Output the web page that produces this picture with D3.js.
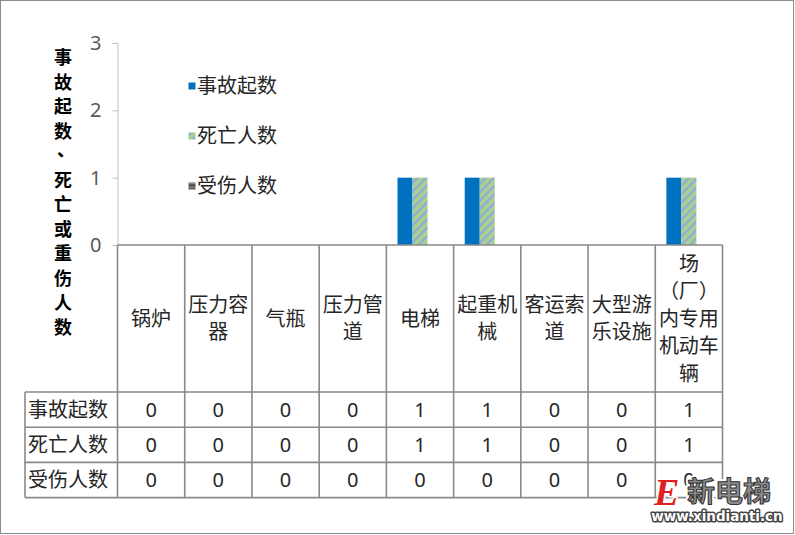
<!DOCTYPE html>
<html><head><meta charset="utf-8">
<script src="https://cdn.jsdelivr.net/npm/d3@7"></script>
<style>
html,body{margin:0;padding:0;background:#fff;}
text{font-family:"Noto Sans CJK SC","Noto Sans",sans-serif;}
</style></head>
<body>
<svg id="chart" width="795" height="535"></svg>
<script>
const categories = ["锅炉","压力容器","气瓶","压力管道","电梯","起重机械","客运索道","大型游乐设施","场（厂）内专用机动车辆"];
const categoryLines = [["锅炉"],["压力容","器"],["气瓶"],["压力管","道"],["电梯"],["起重机","械"],["客运索","道"],["大型游","乐设施"],["场","（厂）","内专用","机动车","辆"]];
const seriesNames = ["事故起数","死亡人数","受伤人数"];
const accidents = [0,0,0,0,1,1,0,0,1];
const deaths    = [0,0,0,0,1,1,0,0,1];
const injuries  = [0,0,0,0,0,0,0,0,0];
const yTicks = [0,1,2,3];
const yTitle = "事故起数、死亡或重伤人数";

const seriesValues = [accidents, deaths, injuries];
const svg = d3.select("#chart");
const defs = svg.append("defs");

// patterns
const p1 = defs.append("pattern").attr("id","hatchGreen").attr("patternUnits","userSpaceOnUse")
  .attr("width",6).attr("height",6).attr("patternTransform","rotate(45)");
p1.append("rect").attr("width",6).attr("height",6).attr("fill","#a9d18e");
p1.append("rect").attr("width",2.2).attr("height",6).attr("fill","#8faadc");
const p2 = defs.append("pattern").attr("id","hatchGray").attr("patternUnits","userSpaceOnUse")
  .attr("width",4).attr("height",4);
p2.append("rect").attr("width",4).attr("height",4).attr("fill","#595959");
p2.append("rect").attr("y",3).attr("width",4).attr("height",1).attr("fill","#8c8c8c");
const fills = ["#0070c0","url(#hatchGreen)","url(#hatchGray)"];

// outer frame
svg.append("rect").attr("x",0.5).attr("y",0.5).attr("width",793).attr("height",533)
  .attr("fill","#fff").attr("stroke","#8c8c8c").attr("stroke-width",1);

const x0 = d3.scaleBand().domain(categories).range([117.5, 722.5]).padding(0);
const x1 = d3.scaleBand().domain(seriesNames).range([0, x0.bandwidth()]).paddingInner(0).paddingOuter(0.74);
const y = d3.scaleLinear().domain([0,3]).range([245, 43]);

// y axis
const yAxis = svg.append("g").attr("transform","translate(117.5,0)")
  .call(d3.axisLeft(y).tickValues(yTicks).tickFormat(d3.format("d")).tickSize(5).tickPadding(11).tickSizeOuter(0));
yAxis.select(".domain").attr("stroke","#bfbfbf").attr("stroke-width",1);
yAxis.selectAll(".tick line").attr("stroke","#bfbfbf");
yAxis.selectAll(".tick text").attr("fill","#595959").style("font-size","20px")
  .style("font-family","'Noto Sans','DejaVu Sans',sans-serif");

// y title stacked
const titleChars = Array.from(yTitle);
svg.append("g").selectAll("text").data(titleChars).join("text")
  .attr("x",(d)=> d==="、" ? 66 : 63)
  .attr("y",(d,i)=> 58 + i*24.5 + (d==="、" ? -6 : 0))
  .attr("dy","0.36em").attr("text-anchor","middle")
  .style("font-size","18px").style("font-weight","bold").attr("fill","#000")
  .text(d=>d);

// bars
const barsG = svg.append("g");
seriesNames.forEach((s,si)=>{
  barsG.append("g").selectAll("rect").data(categories.map((c,i)=>({c, v: seriesValues[si][i]})))
    .join("rect")
    .attr("x", d=> x0(d.c) + x1(s))
    .attr("y", d=> y(d.v))
    .attr("width", x1.bandwidth())
    .attr("height", d=> y(0) - y(d.v))
    .attr("fill", fills[si]);
});

// legend
const legend = svg.append("g");
seriesNames.forEach((s,i)=>{
  const ly = 86 + i*50;
  legend.append("rect").attr("x",188.5).attr("y",ly-3.5).attr("width",7).attr("height",7).attr("fill",fills[i]);
  legend.append("text").attr("x",197).attr("y",ly).attr("dy","0.36em")
    .style("font-size","20px").attr("fill","#262626").text(s);
});

// data table
const lineColor = "#898989";
const tbl = svg.append("g");
const headerTop = y(0), headerBottom = 392;
const rowH = 35.2;
const tableBottom = headerBottom + rowH*3;
const leftCol = 25;
for(let r=0;r<=3;r++){
  const yy = headerBottom + r*rowH;
  tbl.append("line").attr("x1",leftCol).attr("x2",x0.range()[1]).attr("y1",yy).attr("y2",yy)
    .attr("stroke",lineColor).attr("stroke-width",1.6);
}
tbl.append("line").attr("x1",x0.range()[0]).attr("x2",x0.range()[1]).attr("y1",headerTop).attr("y2",headerTop)
  .attr("stroke",lineColor).attr("stroke-width",1.6);
tbl.append("line").attr("x1",leftCol).attr("x2",leftCol).attr("y1",headerBottom).attr("y2",tableBottom)
  .attr("stroke",lineColor).attr("stroke-width",1.6);
categories.forEach((c)=>{
  const xx = x0(c);
  tbl.append("line").attr("x1",xx).attr("x2",xx).attr("y1",headerTop).attr("y2",tableBottom)
    .attr("stroke",lineColor).attr("stroke-width",1.6);
});
tbl.append("line").attr("x1",x0.range()[1]).attr("x2",x0.range()[1]).attr("y1",headerTop).attr("y2",tableBottom)
  .attr("stroke",lineColor).attr("stroke-width",1.6);

// category labels
const lh = 27.5;
const hc = (headerTop + headerBottom)/2;
categories.forEach((c,i)=>{
  const lines = categoryLines[i];
  const cx = x0(c) + x0.bandwidth()/2;
  lines.forEach((ln,k)=>{
    tbl.append("text").attr("x",cx).attr("y", hc + (k - (lines.length-1)/2)*lh).attr("dy","0.36em")
      .attr("text-anchor","middle").style("font-size","20px").attr("fill","#262626").text(ln);
  });
});

// row labels & values
seriesNames.forEach((s,r)=>{
  const cy = headerBottom + r*rowH + rowH/2;
  tbl.append("text").attr("x",28).attr("y",cy).attr("dy","0.36em")
    .style("font-size","20px").attr("fill","#262626").text(s);
  categories.forEach((c,i)=>{
    tbl.append("text").attr("x", x0(c)+x0.bandwidth()/2).attr("y",cy).attr("dy","0.36em")
      .attr("text-anchor","middle").style("font-size","20px")
      .style("font-family","'Noto Sans','DejaVu Sans',sans-serif")
      .attr("fill","#262626").text(seriesValues[r][i]);
  });
});

// watermark
const wm = svg.append("g");
wm.append("text").attr("x",654).attr("y",505).style("font-size","38px").style("font-style","italic")
  .style("font-family","'Liberation Serif',serif").style("font-weight","bold")
  .attr("fill","#e02020").attr("stroke","#fff").attr("stroke-width",3).attr("paint-order","stroke").text("E");
wm.append("text").attr("x",729).attr("y",502).attr("text-anchor","middle")
  .style("font-size","28px").style("font-weight","bold")
  .attr("fill","#8a8a8a").attr("stroke","#fff").attr("stroke-width",5).attr("stroke-linejoin","round").attr("paint-order","stroke").text("新电梯");
wm.append("text").attr("x",729).attr("y",502).attr("text-anchor","middle")
  .style("font-size","28px").style("font-weight","bold")
  .attr("fill","#8a8a8a").attr("stroke","#333").attr("stroke-width",1).text("新电梯");
wm.append("text").attr("x",717).attr("y",521).attr("text-anchor","middle")
  .style("font-size","13.5px").style("font-weight","bold").style("font-family","'DejaVu Sans',sans-serif")
  .attr("fill","#fff").attr("stroke","#444").attr("stroke-width",3).attr("stroke-linejoin","round").text("www.xindianti.cn");
wm.append("text").attr("x",717).attr("y",521).attr("text-anchor","middle")
  .style("font-size","13.5px").style("font-weight","bold").style("font-family","'DejaVu Sans',sans-serif")
  .attr("fill","#fff").text("www.xindianti.cn");
</script>
</body></html>
